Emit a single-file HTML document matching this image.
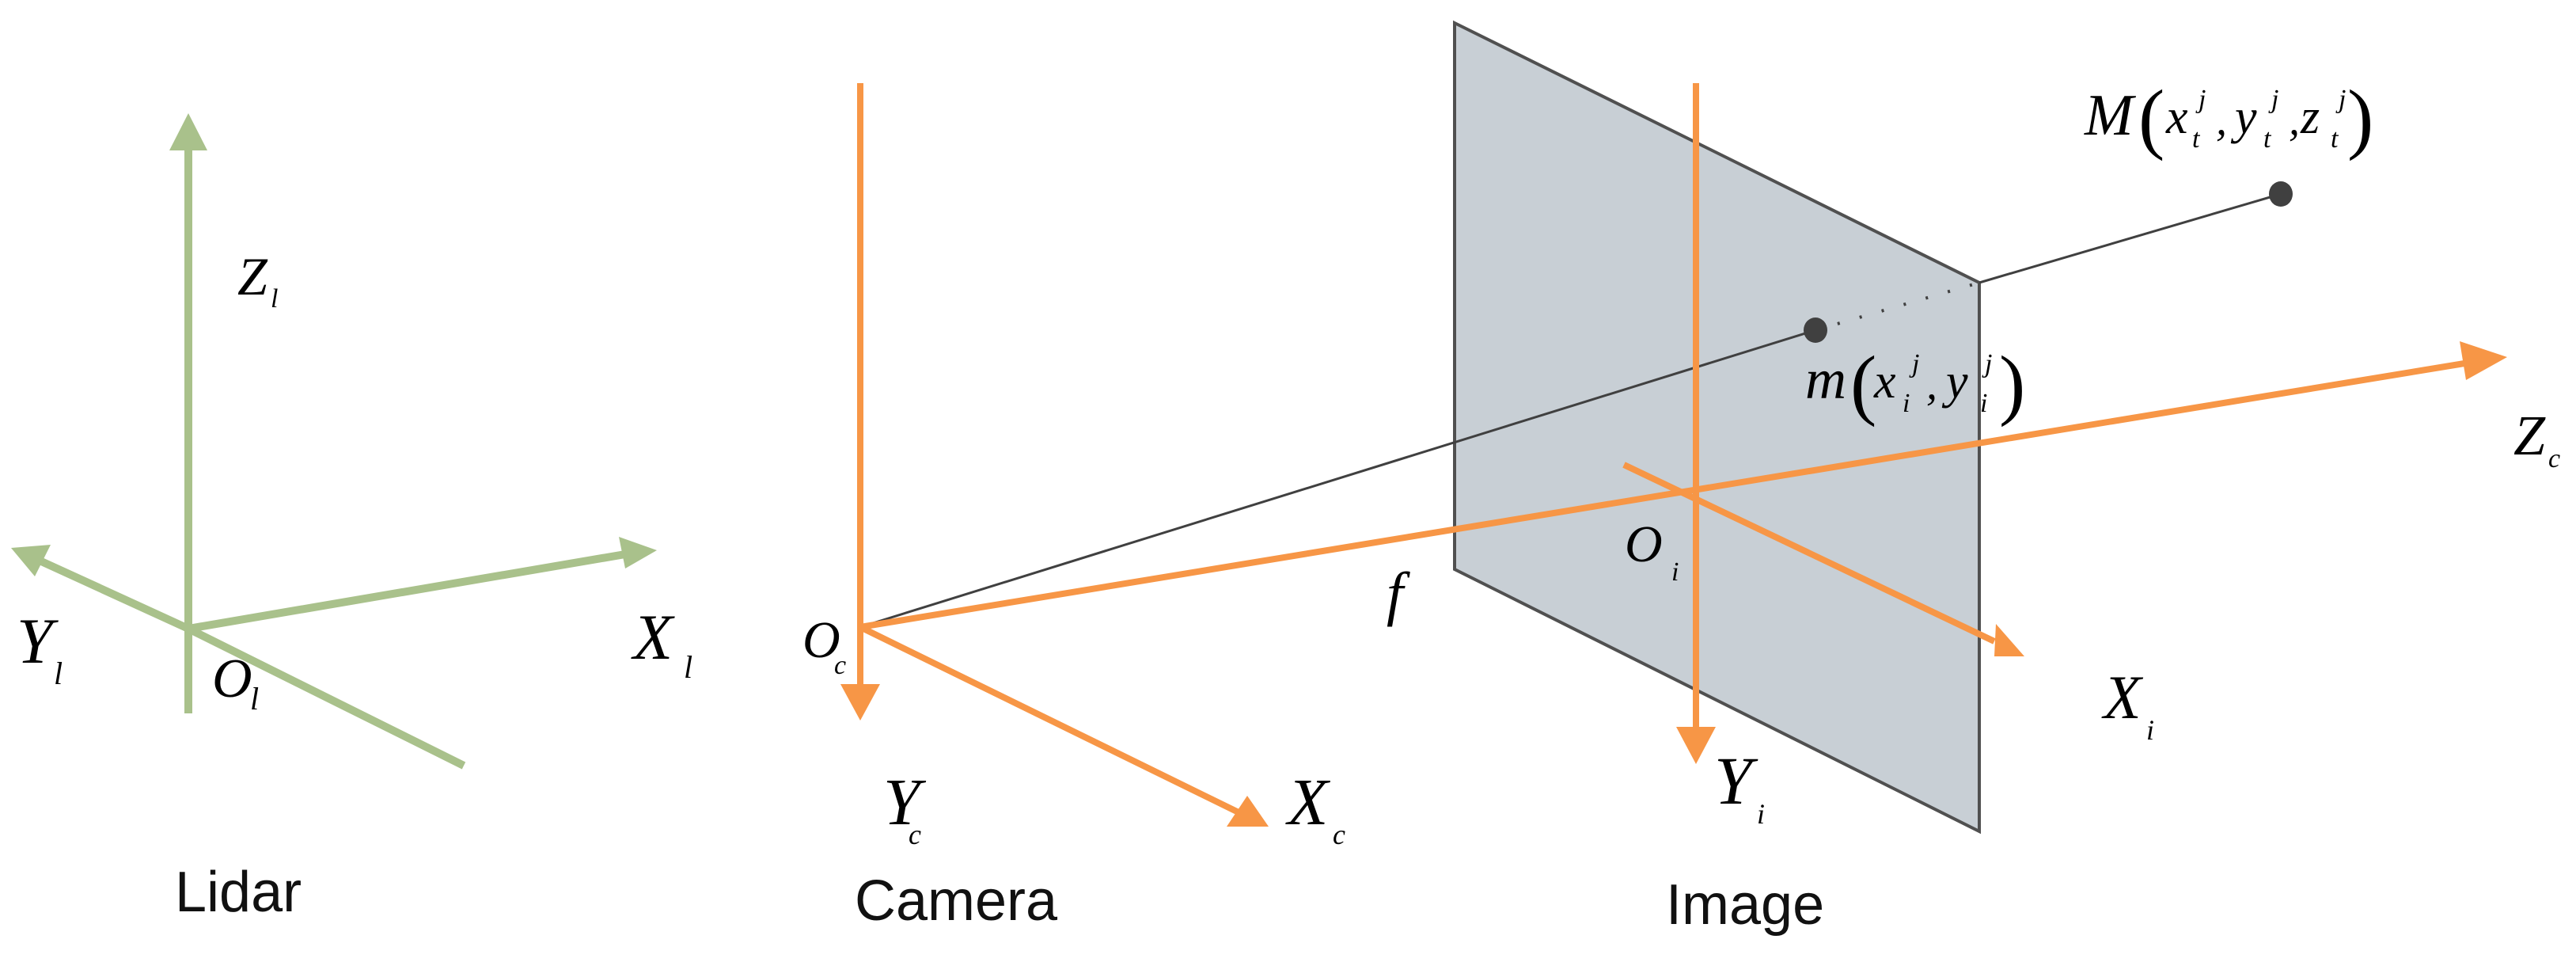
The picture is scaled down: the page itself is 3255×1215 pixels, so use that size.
<!DOCTYPE html>
<html><head><meta charset="utf-8"><style>
html,body{margin:0;padding:0;background:#fff;}
svg{display:block;}
.m{font-family:"Liberation Serif",serif;font-style:italic;fill:#000;}
.p{font-family:"Liberation Serif",serif;fill:#000;}
.t{font-family:"Liberation Sans",sans-serif;fill:#111;}
</style></head><body>
<svg width="3255" height="1215" viewBox="0 0 3255 1215" xmlns="http://www.w3.org/2000/svg">
<!-- Lidar -->
<g stroke="#a9c18b" stroke-width="10" fill="none">
<line x1="238" y1="901" x2="238" y2="185"/>
<line x1="238" y1="794" x2="50" y2="708"/>
<line x1="238" y1="794" x2="790" y2="700"/>
<line x1="238" y1="794" x2="586" y2="967"/>
</g>
<g fill="#a9c18b">
<polygon points="238,143 214,190 262,190"/>
<polygon points="14,692 64,688 44,728"/>
<polygon points="830,695 782,678 790,718"/>
</g>
<text class="m" x="300" y="372" font-size="68">Z</text><text class="m" x="342" y="388" font-size="34">l</text>
<text class="m" x="21" y="837" font-size="82">Y</text><text class="m" x="68" y="864" font-size="40">l</text>
<text class="m" x="800" y="832" font-size="82">X</text><text class="m" x="864" y="856" font-size="40">l</text>
<text class="m" x="268" y="880" font-size="70">O</text><text class="m" x="316" y="896" font-size="40">l</text>
<text class="t" x="221" y="1151" font-size="72">Lidar</text>

<!-- Image plane -->
<polygon points="1838,29 2501,357 2501,1050 1838,719" fill="#c8cfd5" stroke="#505050" stroke-width="4"/>

<!-- black projection lines -->
<line x1="1087" y1="792" x2="2294" y2="417" stroke="#404040" stroke-width="3"/>
<line x1="2294" y1="417" x2="2501" y2="357" stroke="#404040" stroke-width="4" stroke-dasharray="3,26"/>
<line x1="2501" y1="357" x2="2882" y2="245" stroke="#404040" stroke-width="3"/>
<ellipse cx="2294" cy="417" rx="15" ry="16" fill="#404040"/>
<ellipse cx="2882" cy="245" rx="15" ry="16" fill="#404040"/>

<!-- Camera/Image orange axes -->
<g stroke="#f79646" stroke-width="8" fill="none">
<line x1="1087" y1="105" x2="1087" y2="870"/>
<line x1="1087" y1="792" x2="3120" y2="458"/>
<line x1="1087" y1="792" x2="1565" y2="1026"/>
<line x1="2143" y1="105" x2="2143" y2="925"/>
<line x1="2052" y1="587" x2="2520" y2="810"/>
</g>
<g fill="#f79646">
<polygon points="1087,910 1062,864 1112,864"/>
<polygon points="3168,451 3108,431 3116,480"/>
<polygon points="1603,1044 1576,1005 1550,1044"/>
<polygon points="2143,965 2118,918 2168,918"/>
<polygon points="2558,829 2522,788 2520,829"/>
</g>
<text class="m" x="1014" y="830" font-size="66">O</text><text class="m" x="1054" y="851" font-size="34">c</text>
<text class="m" x="1116" y="1041" font-size="84">Y</text><text class="m" x="1148" y="1066" font-size="36">c</text>
<text class="m" x="1627" y="1041" font-size="84">X</text><text class="m" x="1684" y="1066" font-size="36">c</text>
<text class="t" x="1080" y="1162" font-size="72">Camera</text>

<text class="m" x="2053" y="709" font-size="66">O</text><text class="m" x="2112" y="733" font-size="34">i</text>
<text class="m" x="1752" y="775" font-size="76">f</text>
<text class="m" x="2658" y="907" font-size="78">X</text><text class="m" x="2712" y="934" font-size="36">i</text>
<text class="m" x="2166" y="1015" font-size="86">Y</text><text class="m" x="2220" y="1040" font-size="36">i</text>
<text class="m" x="3176" y="574" font-size="72">Z</text><text class="m" x="3220" y="590" font-size="34">c</text>
<text class="t" x="2105" y="1167" font-size="72">Image</text>

<!-- M label -->
<text class="m" x="2634" y="170" font-size="74">M</text>
<text class="p" x="2702" y="182" font-size="100">(</text>
<text class="m" x="2737" y="168" font-size="62">x</text><text class="m" x="2778" y="136" font-size="34">j</text><text class="m" x="2770" y="186" font-size="34">t</text>
<text class="m" x="2800" y="170" font-size="56">,</text>
<text class="m" x="2824" y="168" font-size="62">y</text><text class="m" x="2870" y="136" font-size="34">j</text><text class="m" x="2860" y="186" font-size="34">t</text>
<text class="m" x="2892" y="170" font-size="56">,</text>
<text class="m" x="2907" y="168" font-size="62">z</text><text class="m" x="2955" y="136" font-size="34">j</text><text class="m" x="2945" y="186" font-size="34">t</text>
<text class="p" x="2966" y="182" font-size="100">)</text>

<!-- m label -->
<text class="m" x="2281" y="503" font-size="72">m</text>
<text class="p" x="2338" y="518" font-size="100">(</text>
<text class="m" x="2368" y="502" font-size="62">x</text><text class="m" x="2416" y="470" font-size="34">j</text><text class="m" x="2404" y="520" font-size="34">i</text>
<text class="m" x="2434" y="504" font-size="56">,</text>
<text class="m" x="2459" y="502" font-size="62">y</text><text class="m" x="2508" y="470" font-size="34">j</text><text class="m" x="2502" y="520" font-size="34">i</text>
<text class="p" x="2526" y="518" font-size="100">)</text>
</svg>
</body></html>
